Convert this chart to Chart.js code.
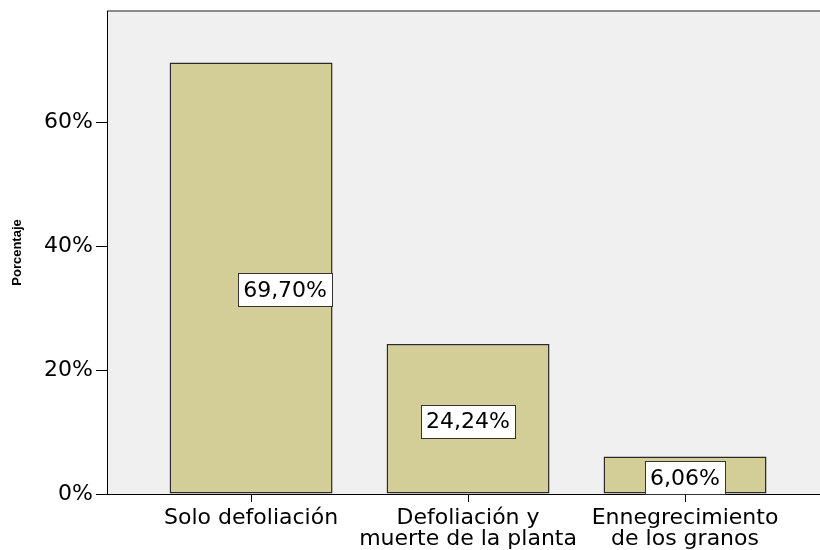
<!DOCTYPE html>
<html>
<head>
<meta charset="utf-8">
<script src="https://cdn.jsdelivr.net/npm/chart.js@4"></script>
<style>
  html, body { margin: 0; padding: 0; background: #fff; overflow: hidden; }
  #wrap { width: 820px; height: 550px; }
</style>
</head>
<body>
<div id="wrap"><canvas id="chart"></canvas></div>
<script>
const categories = [
  ['Solo defoliación'],
  ['Defoliación y', 'muerte de la planta'],
  ['Ennegrecimiento', 'de los granos']
];
const percentages = [69.70, 24.24, 6.06];
const valueLabels = ['69,70%', '24,24%', '6,06%'];
const yTicks = [0, 20, 40, 60];

const FONT = '"DejaVu Sans", Arial, sans-serif';

// gray plot background + top frame line
const plotBg = {
  id: 'plotBg',
  beforeDraw(chart) {
    const { ctx, chartArea: a } = chart;
    ctx.save();
    ctx.fillStyle = '#f0f0f0';
    ctx.fillRect(a.left, a.top, a.right - a.left, a.bottom - a.top);
    ctx.strokeStyle = '#8a8a8a';
    ctx.lineWidth = 2;
    ctx.beginPath();
    ctx.moveTo(a.left, a.top);
    ctx.lineTo(a.right, a.top);
    ctx.stroke();
    ctx.restore();
  }
};

// white boxed value labels in the middle of each bar
const boxLabels = {
  id: 'boxLabels',
  afterDatasetsDraw(chart, args, opts) {
    const { ctx } = chart;
    const meta = chart.getDatasetMeta(0);
    ctx.save();
    ctx.font = '22px ' + FONT;
    ctx.textAlign = 'center';
    ctx.textBaseline = 'middle';
    meta.data.forEach((bar, i) => {
      const off = opts.offsets[i] || [0, 0];
      const cx = bar.x + off[0];
      const cy = (bar.y + bar.base) / 2 + off[1];
      const txt = valueLabels[i];
      const w = ctx.measureText(txt).width + 10;
      const h = 33;
      ctx.fillStyle = '#fff';
      ctx.fillRect(cx - w / 2, cy - h / 2, w, h);
      ctx.strokeStyle = '#333';
      ctx.lineWidth = 1;
      ctx.strokeRect(Math.round(cx - w / 2) + 0.5, Math.round(cy - h / 2) + 0.5, Math.round(w), h);
      ctx.fillStyle = '#000';
      ctx.fillText(txt, cx, cy + 1);
    });
    ctx.restore();
  }
};

new Chart(document.getElementById('chart'), {
  type: 'bar',
  data: {
    datasets: [{
      data: percentages.map((v, i) => ({ x: i, y: v })),
      backgroundColor: '#d3ce97',
      borderColor: '#2a2a2a',
      borderWidth: 1.5,
      borderSkipped: false,
      categoryPercentage: 1,
      barPercentage: 0.751
    }]
  },
  options: {
    responsive: true,
    maintainAspectRatio: false,
    animation: false,
    layout: { padding: { top: 11, right: 0, left: 0, bottom: 0 } },
    plugins: {
      legend: { display: false },
      tooltip: { enabled: false },
      boxLabels: { offsets: [[34, 12], [0, 3], [0, 3]] }
    },
    scales: {
      x: {
        type: 'linear',
        offset: false,
        min: -0.664,
        max: 2.622,
        afterBuildTicks: s => { s.ticks = categories.map((c, i) => ({ value: i })); },
        afterFit: s => { s.height = 56; s.paddingLeft = 0; s.paddingRight = 0; },
        border: { color: '#000', width: 1 },
        grid: { offset: false, drawOnChartArea: false, drawTicks: true, tickLength: 8, color: '#000' },
        ticks: {
          autoSkip: false,
          maxRotation: 0,
          padding: 6,
          color: '#000',
          font: { family: FONT, size: 22, lineHeight: 0.95 },
          callback: v => categories[v]
        }
      },
      y: {
        min: 0,
        max: 78,
        afterBuildTicks: s => { s.ticks = yTicks.map(v => ({ value: v })); },
        afterFit: s => { s.width = 107; s.paddingTop = 0; s.paddingBottom = 0; },
        border: { color: '#000', width: 1 },
        grid: { drawOnChartArea: false, drawTicks: true, tickLength: 11, color: '#000' },
        ticks: {
          padding: 3,
          color: '#000',
          font: { family: FONT, size: 22 },
          callback: v => v + '%'
        },
        title: {
          display: true,
          text: 'Porcentaje',
          color: '#000',
          font: { family: '"Liberation Sans", Arial, sans-serif', size: 13, weight: 'bold' },
          padding: { top: 10, bottom: 0 }
        }
      }
    }
  },
  plugins: [plotBg, boxLabels]
});
</script>
</body>
</html>
